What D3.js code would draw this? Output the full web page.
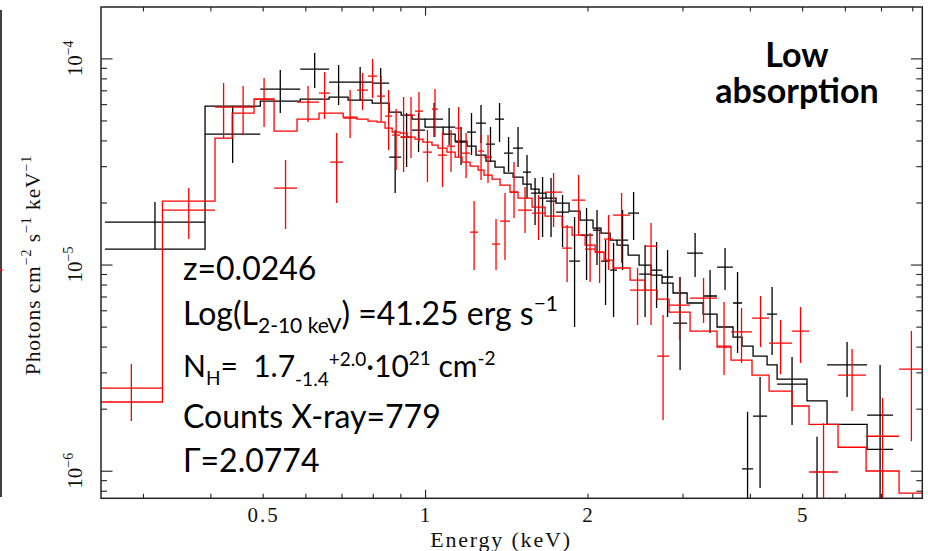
<!DOCTYPE html>
<html><head><meta charset="utf-8">
<script src="https://cdn.jsdelivr.net/npm/d3@7"></script>
<style>
html,body{margin:0;padding:0;background:#fff;}
svg{display:block;}
</style></head><body>
<svg id="chart" width="928" height="551"></svg>
<script>
// ---- DATA (energies in keV, fluxes in units of 1e-5 photons cm^-2 s^-1 keV^-1) ----
const blackEdges = [0.255,0.391,0.495,0.587,0.664,0.720,0.798,0.858,0.903,0.946,1.000,1.080,1.137,1.196,1.243,1.297,1.348,1.401,1.456,1.519,1.572,1.627,1.676,1.749,1.849,1.938,2.048,2.119,2.203,2.269,2.379,2.493,2.624,2.750,2.882,3.060,3.276,3.477,3.723,3.869,4.055,4.305,4.493,5.105,5.561,6.597,7.371];
const blackFlux = [1.607,4.295,7.098,8.874,7.676,7.676,7.590,3.322,4.153,4.491,5.077,4.644,3.928,4.392,4.856,3.841,5.077,3.474,3.673,2.809,2.222,2.101,2.032,1.797,1.040,1.390,1.470,1.040,0.940,1.315,1.777,0.899,0.940,0.870,0.520,1.137,0.704,0.972,0.651,0.102,0.184,0.575,0.263,0.0645,0.326,0.186];
const blackUpper = [2.010,5.870,8.775,10.61,9.28,9.075,8.974,4.491,5.429,5.429,6.070,5.741,4.644,5.429,5.936,4.644,6.070,4.153,4.644,3.397,2.627,2.657,2.627,2.173,1.699,1.879,1.838,1.315,1.271,1.838,2.247,1.243,1.286,1.176,0.870,1.421,0.940,1.202,0.920,0.193,0.285,0.778,0.356,0.146,0.421,0.326];
const blackLower = [1.189,3.106,5.429,7.178,5.936,6.277,6.070,2.222,2.970,3.513,4.153,3.798,3.037,3.397,3.884,3.141,3.928,2.809,2.970,2.101,1.554,1.359,1.359,1.216,0.498,0.841,0.994,0.636,0.557,0.940,1.315,0.557,0.615,0.557,0.308,0.870,0.465,0.752,0.372,0.046,0.0824,0.364,0.1665,0.0236,0.228,0.0528];
const blackModel = [1.189,5.870,6.207,6.348,6.491,6.277,6.070,5.490,5.309,5.077,4.644,4.295,3.972,3.756,3.397,3.176,2.970,2.778,2.657,2.457,2.323,2.222,2.101,1.987,1.817,1.643,1.503,1.421,1.315,1.243,1.112,0.994,0.889,0.813,0.728,0.651,0.575,0.498,0.445,0.402,0.360,0.326,0.278,0.218,0.168,0.127];

const redEdges = [0.25,0.326,0.408,0.439,0.482,0.525,0.579,0.636,0.667,0.705,0.748,0.784,0.815,0.843,0.869,0.899,0.926,0.958,0.991,1.030,1.057,1.098,1.137,1.171,1.212,1.254,1.286,1.331,1.377,1.437,1.487,1.579,1.669,1.795,1.873,1.980,2.066,2.147,2.231,2.399,2.557,2.692,2.833,3.099,3.477,3.691,4.037,4.342,4.789,5.149,5.828,6.569,7.562,8.40];
const redFlux = [0.2518,1.838,5.805,5.805,6.348,2.350,6.138,6.788,3.141,5.134,7.019,8.207,6.564,5.250,4.247,4.153,5.309,5.551,3.513,5.677,3.397,3.756,4.592,3.474,1.437,3.553,3.322,1.257,1.625,2.247,1.838,1.777,2.247,1.202,2.055,1.189,1.150,1.329,1.738,0.752,1.229,0.360,0.636,0.688,0.402,0.471,0.550,0.416,0.476,0.0986,0.291,0.147,0.311];
const redUpper = [0.329,2.350,7.590,7.340,8.025,3.213,7.340,8.581,4.343,7.019,8.486,9.922,8.207,7.019,5.677,6.491,6.491,6.864,4.491,7.098,4.392,4.491,5.805,4.343,2.032,4.247,4.247,1.662,2.222,3.141,2.376,2.173,2.778,1.554,2.717,1.421,1.520,1.738,2.222,0.962,1.589,0.569,0.870,0.860,0.658,0.615,0.704,0.538,0.622,0.170,0.389,0.225,0.476];
const redLower = [0.1742,1.329,4.107,4.247,4.644,1.486,4.910,5.077,1.987,4.107,5.614,6.419,4.910,3.593,2.872,2.809,3.285,3.928,2.512,4.153,2.376,2.809,3.322,2.627,0.940,2.569,2.484,0.940,1.051,1.681,1.421,1.315,1.520,0.822,1.390,0.822,0.813,0.940,1.017,0.509,0.509,0.176,0.430,0.520,0.291,0.333,0.398,0.294,0.333,0.0528,0.195,0.0528,0.139];
const redModel = [0.2154,2.032,4.107,5.429,6.348,4.441,5.077,5.429,5.429,5.192,5.077,4.965,4.910,4.592,4.392,4.343,4.153,4.061,3.928,3.798,3.673,3.513,3.322,3.141,3.003,2.872,2.717,2.598,2.430,2.247,2.101,1.900,1.719,1.520,1.390,1.243,1.150,1.051,0.962,0.841,0.752,0.680,0.588,0.476,0.398,0.344,0.291,0.2435,0.206,0.168,0.130,0.0997,0.0779];

const xTickLabelValues = [0.5, 1, 2, 5];
const xTickLabels = ["0.5", "1", "2", "5"];
const xMinorTicks = [0.3,0.4,0.5,0.6,0.7,0.8,0.9,2,3,4,5,6,7,8];
const xMajorTicks = [1];
const yMajorTicks = [1e-4, 1e-5, 1e-6];
const yTickExponents = ["\u22124", "\u22125", "\u22126"];
const yMinorTicks = [8e-7,9e-7,2e-6,3e-6,4e-6,5e-6,6e-6,7e-6,8e-6,9e-6,2e-5,3e-5,4e-5,5e-5,6e-5,7e-5,8e-5,9e-5];
const FLUX_UNIT = 1e-5;

// ---- CHART ----
const svg = d3.select("#chart");
const L = 101, R = 922.3, T = 7, B = 498.3;
const x = d3.scaleLog().domain([0.2508, 8.35]).range([L, R]);
const y = d3.scaleLog().domain([7.35e-7, 1.775e-4]).range([B, T]);

svg.append("rect").attr("width",928).attr("height",551).attr("fill","#fff");

// stray edge of neighbouring panel
svg.append("line").attr("x1",1).attr("x2",1).attr("y1",10).attr("y2",497).attr("stroke","#000").attr("stroke-width",1.5);
svg.append("line").attr("x1",0).attr("x2",2.5).attr("y1",270).attr("y2",270).attr("stroke","#f00").attr("stroke-width",1.5);

svg.append("defs").append("clipPath").attr("id","clip")
  .append("rect").attr("x",L).attr("y",T).attr("width",R-L).attr("height",B-T);

function drawSet(edges, flux, upper, lower, model, color) {
  const bins = flux.map((f,i)=>({lo:edges[i], hi:edges[i+1], f:f*FLUX_UNIT, up:upper[i]*FLUX_UNIT, low:lower[i]*FLUX_UNIT, m:model[i]*FLUX_UNIT}));
  const g = svg.append("g").attr("clip-path","url(#clip)")
    .attr("stroke",color).attr("fill","none").attr("stroke-width",1.3);
  g.selectAll("line.h").data(bins).join("line").attr("class","h")
    .attr("x1",d=>x(d.lo)).attr("x2",d=>x(d.hi))
    .attr("y1",d=>y(d.f)).attr("y2",d=>y(d.f));
  g.selectAll("line.v").data(bins).join("line").attr("class","v")
    .attr("x1",d=>x(Math.sqrt(d.lo*d.hi))).attr("x2",d=>x(Math.sqrt(d.lo*d.hi)))
    .attr("y1",d=>y(d.up)).attr("y2",d=>y(d.low));
  const pts = bins.map(d=>[d.lo,d.m]);
  pts.push([bins[bins.length-1].hi, bins[bins.length-1].m]);
  const line = d3.line().x(d=>x(d[0])).y(d=>y(d[1])).curve(d3.curveStepAfter);
  g.append("path").attr("d", line(pts));
}
drawSet(blackEdges, blackFlux, blackUpper, blackLower, blackModel, "#000");
drawSet(redEdges, redFlux, redUpper, redLower, redModel, "#ff0000");

// ---- AXES ----
function styleAxis(g){
  g.select(".domain").remove();
  g.selectAll(".tick line").attr("stroke","#222").attr("stroke-width",1.1);
  g.selectAll(".tick text").remove();
}
svg.append("g").attr("transform",`translate(0,${B})`).call(d3.axisBottom(x).tickValues(xMinorTicks).tickSize(-4.5)).call(styleAxis);
svg.append("g").attr("transform",`translate(0,${B})`).call(d3.axisBottom(x).tickValues(xMajorTicks).tickSize(-8.5)).call(styleAxis);
svg.append("g").attr("transform",`translate(0,${T})`).call(d3.axisTop(x).tickValues(xMinorTicks).tickSize(-4.5)).call(styleAxis);
svg.append("g").attr("transform",`translate(0,${T})`).call(d3.axisTop(x).tickValues(xMajorTicks).tickSize(-8.5)).call(styleAxis);
svg.append("g").attr("transform",`translate(${L},0)`).call(d3.axisLeft(y).tickValues(yMinorTicks).tickSize(-6)).call(styleAxis);
svg.append("g").attr("transform",`translate(${L},0)`).call(d3.axisLeft(y).tickValues(yMajorTicks).tickSize(-11.5)).call(styleAxis);
svg.append("g").attr("transform",`translate(${R},0)`).call(d3.axisRight(y).tickValues(yMinorTicks).tickSize(-6)).call(styleAxis);
svg.append("g").attr("transform",`translate(${R},0)`).call(d3.axisRight(y).tickValues(yMajorTicks).tickSize(-11.5)).call(styleAxis);

svg.append("rect").attr("x",L).attr("y",T).attr("width",R-L).attr("height",B-T)
  .attr("fill","none").attr("stroke","#222").attr("stroke-width",1.5);

const serif = "'Liberation Serif','DejaVu Serif',serif";
// x tick labels
svg.append("g").selectAll("text").data(xTickLabelValues).join("text")
  .attr("x",d=>x(d)+1).attr("y",522).attr("text-anchor","middle")
  .attr("font-family",serif).attr("font-size",21).attr("letter-spacing",2)
  .attr("fill","#111").text((d,i)=>xTickLabels[i]);
// y tick labels (rotated)
yMajorTicks.forEach((v,i)=>{
  const t = svg.append("text").attr("transform",`translate(82,${y(v)}) rotate(-90)`)
    .attr("text-anchor","middle").attr("font-family",serif).attr("font-size",21).attr("fill","#111");
  t.append("tspan").text("10");
  t.append("tspan").attr("font-size",14).attr("dy",-9).text(yTickExponents[i]);
});
// axis titles
svg.append("text").attr("x",501).attr("y",547).attr("text-anchor","middle")
  .attr("font-family",serif).attr("font-size",22).attr("letter-spacing",1.8).attr("fill","#111")
  .text("Energy (keV)");
{
  const t = svg.append("text").attr("transform","translate(40,265) rotate(-90)")
    .attr("text-anchor","middle").attr("font-family",serif).attr("font-size",21.5).attr("letter-spacing",0.9).attr("fill","#111");
  t.append("tspan").text("Photons cm");
  t.append("tspan").attr("font-size",14).attr("dy",-9).text("\u22122");
  t.append("tspan").attr("dy",9).text(" s");
  t.append("tspan").attr("font-size",14).attr("dy",-9).text("\u22121");
  t.append("tspan").attr("dy",9).text(" keV");
  t.append("tspan").attr("font-size",14).attr("dy",-9).text("\u22121");
}

// ---- ANNOTATIONS ----
const sans = "Lato,'Open Sans',sans-serif";
const ann = svg.append("g").attr("font-family",sans).attr("fill","#000").style("white-space","pre");
ann.append("text").attr("x",797).attr("y",67).attr("text-anchor","middle").attr("font-weight","bold").attr("font-size",34).text("Low");
ann.append("text").attr("x",797).attr("y",103).attr("text-anchor","middle").attr("font-weight","bold").attr("font-size",34).text("absorption");

const FS = 32, SS = 21, SS3 = 19;
ann.append("text").attr("x",183).attr("y",280).attr("font-size",FS).text("z=0.0246");
{
  const t = ann.append("text").attr("x",183).attr("y",325).attr("font-size",FS);
  t.append("tspan").text("Log(L");
  t.append("tspan").attr("font-size",SS).attr("dy",8).text("2-10 keV");
  t.append("tspan").attr("dy",-8).text(") =41.25 erg s");
  t.append("tspan").attr("font-size",SS).attr("dy",-14).text("\u22121");
}
{
  const t = ann.append("text").attr("x",183).attr("y",377).attr("font-size",30);
  t.append("tspan").text("N");
  t.append("tspan").attr("font-size",SS3).attr("dy",8).text("H");
  t.append("tspan").attr("dy",-8).text("=\u00A0 1.7");
  t.append("tspan").attr("font-size",SS3).attr("dy",9).text("-1.4");
  t.append("tspan").attr("font-size",SS3).attr("dy",-20).text("+2.0");
  t.append("tspan").attr("dy",11).text("\u00B710");
  t.append("tspan").attr("font-size",SS3).attr("dy",-12).text("21");
  t.append("tspan").attr("dy",12).text(" cm");
  t.append("tspan").attr("font-size",SS3).attr("dy",-12).text("-2");
}
ann.append("text").attr("x",183).attr("y",428).attr("font-size",FS).text("Counts X-ray=779");
ann.append("text").attr("x",183).attr("y",472).attr("font-size",FS).text("\u0393=2.0774");
</script>
</body></html>
